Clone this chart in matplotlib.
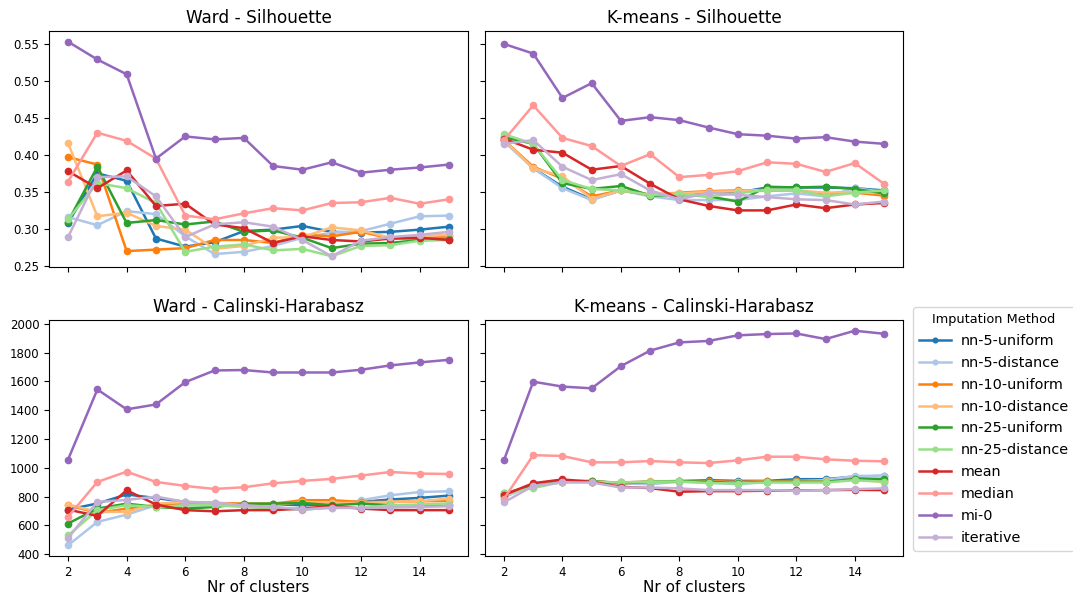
import matplotlib
matplotlib.use("Agg")
import matplotlib.pyplot as plt

clusters = list(range(2, 16))
methods = ["nn-5-uniform", "nn-5-distance", "nn-10-uniform", "nn-10-distance",
           "nn-25-uniform", "nn-25-distance", "mean", "median", "mi-0", "iterative"]
colors = ["#1f77b4", "#aec7e8", "#ff7f0e", "#ffbb78", "#2ca02c",
          "#98df8a", "#d62728", "#ff9896", "#9467bd", "#c5b0d5"]

# Ward - Silhouette
ward_sil = {
    "nn-5-uniform":   [0.308, 0.375, 0.365, 0.287, 0.276, 0.282, 0.297, 0.299, 0.304, 0.296, 0.295, 0.296, 0.299, 0.303],
    "nn-5-distance":  [0.316, 0.305, 0.324, 0.320, 0.290, 0.266, 0.269, 0.277, 0.288, 0.295, 0.297, 0.307, 0.317, 0.318],
    "nn-10-uniform":  [0.397, 0.387, 0.270, 0.272, 0.274, 0.285, 0.285, 0.281, 0.292, 0.290, 0.296, 0.287, 0.287, 0.290],
    "nn-10-distance": [0.416, 0.317, 0.322, 0.304, 0.299, 0.273, 0.277, 0.288, 0.289, 0.302, 0.298, 0.288, 0.290, 0.292],
    "nn-25-uniform":  [0.310, 0.384, 0.308, 0.312, 0.306, 0.310, 0.296, 0.298, 0.288, 0.274, 0.280, 0.281, 0.285, 0.286],
    "nn-25-distance": [0.313, 0.362, 0.355, 0.335, 0.269, 0.276, 0.279, 0.271, 0.273, 0.263, 0.277, 0.278, 0.284, 0.285],
    "mean":           [0.378, 0.355, 0.379, 0.331, 0.334, 0.306, 0.301, 0.281, 0.290, 0.285, 0.283, 0.287, 0.288, 0.285],
    "median":         [0.364, 0.430, 0.419, 0.395, 0.318, 0.313, 0.321, 0.328, 0.325, 0.335, 0.336, 0.342, 0.334, 0.340],
    "mi-0":           [0.553, 0.529, 0.509, 0.395, 0.425, 0.421, 0.423, 0.385, 0.380, 0.390, 0.376, 0.380, 0.383, 0.387],
    "iterative":      [0.289, 0.370, 0.371, 0.344, 0.289, 0.306, 0.309, 0.303, 0.285, 0.263, 0.284, 0.289, 0.292, 0.296],
}

# K-means - Silhouette
km_sil = {
    "nn-5-uniform":   [0.420, 0.382, 0.357, 0.340, 0.352, 0.346, 0.346, 0.349, 0.349, 0.356, 0.356, 0.356, 0.355, 0.352],
    "nn-5-distance":  [0.418, 0.382, 0.355, 0.339, 0.352, 0.344, 0.339, 0.339, 0.339, 0.344, 0.348, 0.344, 0.355, 0.350],
    "nn-10-uniform":  [0.420, 0.384, 0.368, 0.344, 0.352, 0.346, 0.349, 0.351, 0.352, 0.352, 0.352, 0.347, 0.349, 0.345],
    "nn-10-distance": [0.420, 0.382, 0.371, 0.341, 0.352, 0.347, 0.348, 0.350, 0.351, 0.353, 0.352, 0.349, 0.350, 0.348],
    "nn-25-uniform":  [0.424, 0.415, 0.362, 0.354, 0.358, 0.345, 0.346, 0.344, 0.337, 0.357, 0.356, 0.357, 0.354, 0.348],
    "nn-25-distance": [0.428, 0.415, 0.366, 0.354, 0.352, 0.346, 0.347, 0.344, 0.348, 0.353, 0.353, 0.344, 0.349, 0.352],
    "mean":           [0.422, 0.407, 0.403, 0.380, 0.385, 0.361, 0.340, 0.331, 0.325, 0.325, 0.333, 0.328, 0.333, 0.335],
    "median":         [0.420, 0.467, 0.423, 0.412, 0.385, 0.401, 0.370, 0.373, 0.378, 0.390, 0.388, 0.377, 0.389, 0.361],
    "mi-0":           [0.550, 0.537, 0.477, 0.497, 0.446, 0.451, 0.447, 0.437, 0.428, 0.426, 0.422, 0.424, 0.418, 0.415],
    "iterative":      [0.415, 0.420, 0.384, 0.366, 0.374, 0.352, 0.340, 0.349, 0.346, 0.343, 0.340, 0.339, 0.333, 0.337],
}

# Ward - Calinski-Harabasz
ward_ch = {
    "nn-5-uniform":   [710, 752, 815, 790, 763, 751, 747, 747, 740, 747, 763, 780, 791, 807],
    "nn-5-distance":  [462, 624, 675, 740, 740, 740, 740, 728, 706, 728, 775, 809, 832, 837],
    "nn-10-uniform":  [740, 687, 717, 740, 756, 756, 751, 751, 775, 775, 763, 763, 768, 770],
    "nn-10-distance": [745, 694, 694, 751, 763, 758, 740, 740, 763, 756, 756, 763, 768, 786],
    "nn-25-uniform":  [613, 717, 751, 728, 717, 728, 751, 751, 756, 740, 751, 740, 740, 740],
    "nn-25-distance": [530, 706, 740, 728, 740, 740, 728, 717, 712, 721, 721, 740, 745, 751],
    "mean":           [710, 666, 844, 745, 706, 698, 706, 706, 717, 735, 717, 706, 706, 706],
    "median":         [659, 902, 973, 902, 874, 853, 865, 892, 909, 923, 946, 971, 960, 957],
    "mi-0":           [1057, 1544, 1406, 1440, 1595, 1676, 1679, 1662, 1662, 1662, 1681, 1711, 1732, 1750],
    "iterative":      [512, 763, 777, 800, 763, 758, 740, 728, 712, 724, 721, 724, 728, 733],
}

# K-means - Calinski-Harabasz
km_ch = {
    "nn-5-uniform":   [806, 886, 909, 903, 898, 903, 907, 914, 909, 909, 921, 921, 939, 944],
    "nn-5-distance":  [795, 880, 903, 909, 891, 886, 903, 898, 886, 903, 909, 914, 944, 944],
    "nn-10-uniform":  [818, 880, 909, 909, 891, 903, 909, 907, 903, 907, 907, 903, 921, 909],
    "nn-10-distance": [811, 875, 903, 903, 898, 907, 907, 903, 898, 903, 903, 907, 916, 903],
    "nn-25-uniform":  [822, 875, 903, 907, 894, 903, 907, 903, 894, 903, 903, 903, 921, 921],
    "nn-25-distance": [825, 859, 903, 903, 898, 903, 905, 894, 891, 898, 898, 898, 914, 903],
    "mean":           [811, 893, 919, 903, 868, 859, 834, 838, 838, 841, 843, 845, 847, 845],
    "median":         [785, 1088, 1082, 1038, 1038, 1047, 1038, 1033, 1052, 1077, 1077, 1059, 1049, 1045],
    "mi-0":           [1054, 1598, 1564, 1552, 1706, 1814, 1871, 1881, 1920, 1929, 1933, 1894, 1952, 1931],
    "iterative":      [760, 875, 898, 898, 863, 863, 857, 845, 845, 845, 841, 845, 852, 857],
}

titles = ["Ward - Silhouette", "K-means - Silhouette",
          "Ward - Calinski-Harabasz", "K-means - Calinski-Harabasz"]
datasets = [ward_sil, km_sil, ward_ch, km_ch]

W, H = 1073, 598
fig = plt.figure(figsize=(W / 100, H / 100), dpi=100)

def box(l, t, r, b):
    return [l / W, 1 - b / H, (r - l) / W, (b - t) / H]

ax00 = fig.add_axes(box(49, 31, 468, 267))
ax01 = fig.add_axes(box(485, 31, 903, 267), sharey=ax00, sharex=ax00)
ax10 = fig.add_axes(box(49, 320, 468, 556), sharex=ax00)
ax11 = fig.add_axes(box(485, 320, 903, 556), sharey=ax10, sharex=ax00)
axes = [ax00, ax01, ax10, ax11]

handles = []
for ax, data, title in zip(axes, datasets, titles):
    for m, c in zip(methods, colors):
        h, = ax.plot(clusters, data[m], color=c, marker="o", markersize=4.5,
                     linewidth=1.8, label=m)
        if ax is ax00:
            handles.append(h)
    ax.set_title(title, fontsize=12.2)
    ax.tick_params(labelsize=8.5)

ax00.set_xticks([2, 4, 6, 8, 10, 12, 14])
for ax in (ax00, ax01):
    ax.tick_params(labelbottom=False)
for ax in (ax01, ax11):
    ax.tick_params(labelleft=False)
ax00.set_yticks([0.25, 0.30, 0.35, 0.40, 0.45, 0.50, 0.55])
ax10.set_yticks([400, 600, 800, 1000, 1200, 1400, 1600, 1800, 2000])
ax10.set_xlabel("Nr of clusters", fontsize=11, labelpad=1)
ax11.set_xlabel("Nr of clusters", fontsize=11, labelpad=1)

fig.legend(handles, methods, title="Imputation Method", loc="upper left",
           bbox_to_anchor=(913 / W, 1 - 307 / H), fontsize=10.4, title_fontsize=9.3,
           borderaxespad=0, handlelength=2.2, handletextpad=0.7, labelspacing=0.55,
           markerscale=0.75)

fig.savefig("out.png", dpi=100)
